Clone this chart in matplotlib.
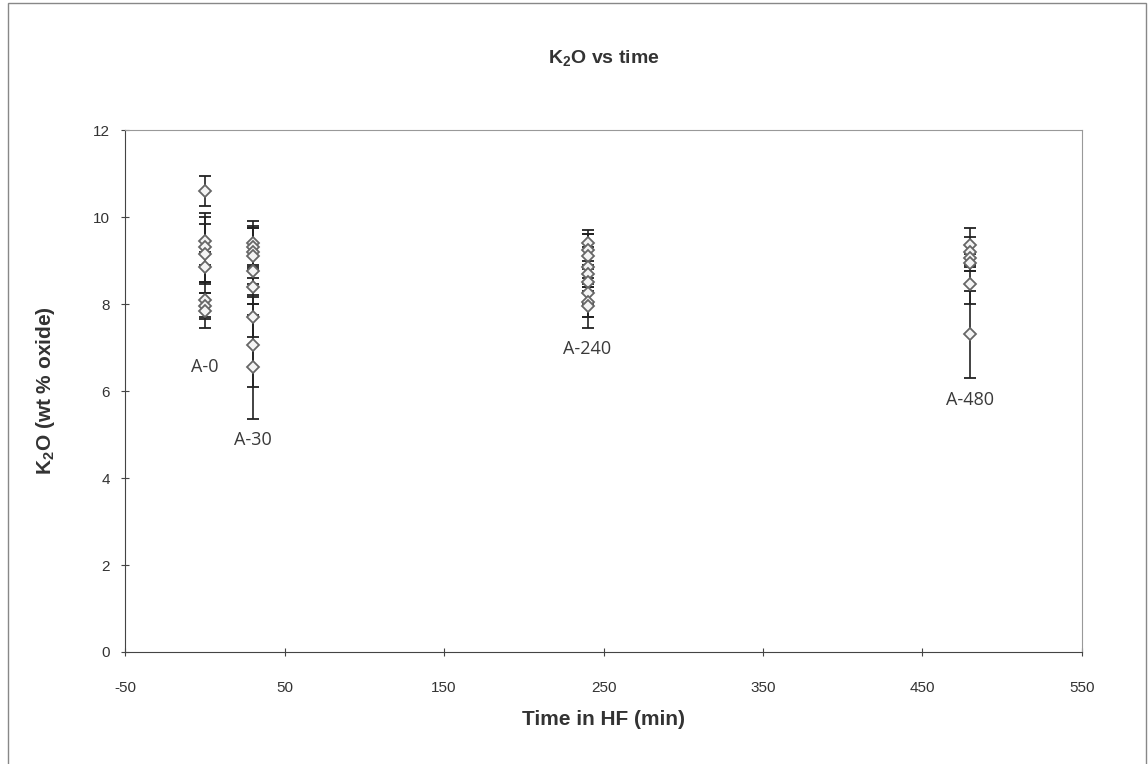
import matplotlib
matplotlib.use("Agg")
import matplotlib.pyplot as plt
from matplotlib.patches import Rectangle

plt.rcParams['font.family'] = ['Liberation Sans', 'DejaVu Sans']
plt.rcParams['mathtext.fontset'] = 'custom'
plt.rcParams['mathtext.rm'] = 'Liberation Sans'
plt.rcParams['mathtext.bf'] = 'Liberation Sans:bold'
plt.rcParams['axes.unicode_minus'] = False

# sample groups: time in HF (min), K2O values and their errors
zeiten = [0, 30, 240, 480]
namen = ["A-0", "A-30", "A-240", "A-480"]
werte = [
    [10.6, 9.45, 9.3, 9.15, 8.85, 8.1, 7.95, 7.85],
    [9.4, 9.3, 9.2, 9.1, 8.75, 8.4, 7.7, 7.05, 6.55],
    [9.4, 9.25, 9.1, 8.85, 8.7, 8.5, 8.25, 8.05, 7.95],
    [9.35, 9.2, 9.05, 8.95, 8.45, 7.3],
]
fehler = [
    [0.35, 0.55, 0.8, 0.7, 0.35, 0.4, 0.3, 0.4],
    [0.5, 0.45, 0.6, 0.65, 0.55, 0.4, 0.45, 0.95, 1.2],
    [0.3, 0.35, 0.5, 0.45, 0.4, 0.5, 0.55, 0.35, 0.5],
    [0.4, 0.35, 0.3, 0.2, 0.45, 1.0],
]
label_y = [6.55, 4.87, 6.97, 5.8]

fig = plt.figure(figsize=(11.48, 7.64), dpi=100)
ax = fig.add_axes([0.1089, 0.1466, 0.8336, 0.6832])

for t, w, f in zip(zeiten, werte, fehler):
    ax.errorbar([t] * len(w), w, yerr=f, fmt='D', ms=6, mfc='#f4f4f4', mec='#666666',
                mew=1.3, ecolor='#222222', elinewidth=1.2, capsize=4, capthick=1.2, zorder=3)

for t, n, y in zip(zeiten, namen, label_y):
    ax.text(t, y, n, ha='center', va='center', fontsize=13, color='#3a3a3a',
            family=['Open Sans', 'DejaVu Sans'])

ax.set_xlim(-50, 550)
ax.set_ylim(0, 12)
ax.set_xticks(range(-50, 551, 100))
ax.set_yticks(range(0, 13, 2))
ax.tick_params(direction='inout', length=6, width=0.8, labelsize=11, labelcolor='#333333', color='#444444')
ax.tick_params(axis='x', pad=18)
ax.tick_params(axis='y', pad=8)
for s in ['left', 'bottom']:
    ax.spines[s].set_color('#444444')
for s in ['top', 'right']:
    ax.spines[s].set_color('#999999')

ax.set_title(r'K$_\mathbf{2}$O vs time', fontsize=14, fontweight='bold', color='#333333', pad=48)
ax.set_xlabel('Time in HF (min)', fontsize=15, fontweight='bold', color='#333333', labelpad=11)
ax.set_ylabel(r'K$_\mathbf{2}$O (wt % oxide)', fontsize=15, fontweight='bold', color='#333333', labelpad=26)

# Rahmen um das ganze Diagramm
fig.patches.append(Rectangle((0.007, -0.01), 0.991, 1.006, transform=fig.transFigure,
                             fill=False, edgecolor='#888888', linewidth=1))

fig.savefig("out.png", dpi=100)
